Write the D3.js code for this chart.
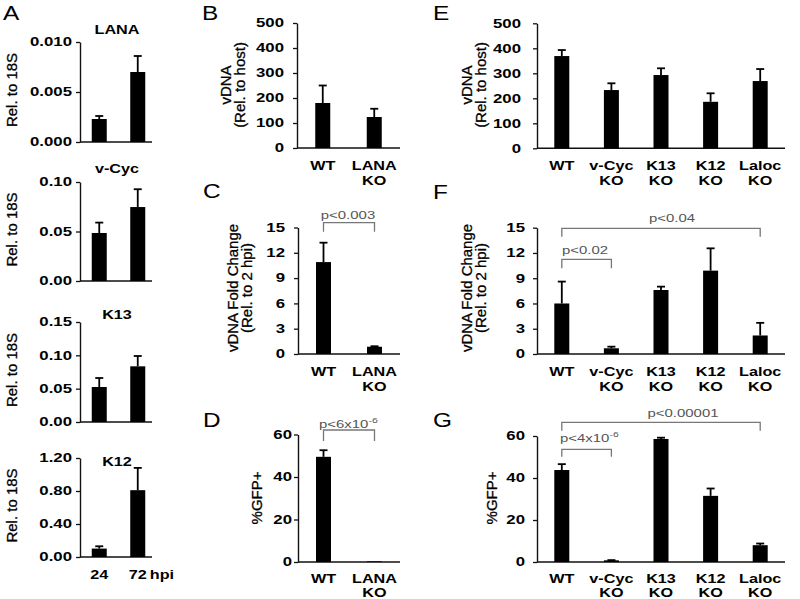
<!DOCTYPE html>
<html><head><meta charset="utf-8">
<script src="https://cdn.jsdelivr.net/npm/d3@7"></script>
<style>body{margin:0;background:#fff}svg{display:block}text{font-family:"Liberation Sans",Arial,sans-serif}</style>
</head><body>
<svg id="c" width="800" height="599"></svg>
<script>
// ---------- data ----------
const aTargets = ["LANA", "v-Cyc", "K13", "K12"];
const aTimes = ["24", "72"];
const aMeans = [[0.0023, 0.0070], [0.0485, 0.0747], [0.0525, 0.0835], [0.102, 0.81]];
const aErrors = [[0.0003, 0.0016], [0.0105, 0.018], [0.0135, 0.0155], [0.028, 0.27]];
const aMax = [0.010, 0.10, 0.15, 1.2];
const aTicks = [[0, 0.005, 0.010], [0, 0.05, 0.10], [0, 0.05, 0.10, 0.15], [0, 0.4, 0.8, 1.2]];
const aTickFormats = [".3f", ".2f", ".2f", ".2f"];

const lanaGroups = ["WT", "LANA KO"];
const bMeans = [180, 124], bErrors = [70, 33];
const cMeans = [10.9, 0.86], cErrors = [2.3, 0.06];
const dMeans = [49.5, 0.3], dErrors = [3.1, 0];

const koGroups = ["WT", "v-Cyc KO", "K13 KO", "K12 KO", "Laloc KO"];
const eMeans = [369, 233, 293, 186, 269], eErrors = [24, 27, 27, 34, 48];
const fMeans = [6.0, 0.68, 7.6, 9.9, 2.2], fErrors = [2.6, 0.19, 0.4, 2.65, 1.5];
const gMeans = [43.8, 0.8, 58.6, 31.5, 8.0], gErrors = [2.8, 0.1, 0.6, 3.5, 0.8];

const vdnaTicks = [0, 100, 200, 300, 400, 500];
const foldTicks = [0, 3, 6, 9, 12, 15];
const gfpTicks = [0, 20, 40, 60];

// ---------- drawing ----------
const svg = d3.select("#c");
const SX = 1.35;       // horizontal stretch of labels
const TSX = 1.4;       // horizontal stretch of tick labels

function txt(parent, x, y, str, o = {}) {
  const size = o.size || 12, weight = o.weight || "bold", anchor = o.anchor || "middle";
  const sx = o.sx || SX;
  return parent.append("text")
    .attr("transform", `translate(${x},${y}) scale(${sx},1)`)
    .attr("text-anchor", anchor).attr("font-size", size)
    .attr("font-weight", weight).attr("fill", o.fill || "#000").text(str);
}
function vtxt(parent, x, y, str, o = {}) {
  const size = o.size || 15, sx = o.sx || 0.95;
  return parent.append("text")
    .attr("transform", `translate(${x},${y}) scale(${sx},1) rotate(-90)`)
    .attr("text-anchor", "middle").attr("font-size", size)
    .attr("font-weight", o.weight || "normal").attr("fill", "#000")
    .attr("stroke", "#000").attr("stroke-width", 0.3).text(str);
}

function panel(o) {
  const g = svg.append("g");
  const x = d3.scalePoint().domain(o.cats).range([o.x0, o.x1]).padding(0.5);
  const y = d3.scaleLinear().domain([0, o.max]).range([o.yBot, o.yTop]);
  const ax = d3.axisLeft(y).tickValues(o.ticks).tickFormat(d3.format(o.fmt)).tickSize(4).tickSizeOuter(0);
  const ag = g.append("g").attr("transform", `translate(${o.x0},0)`).call(ax)
    .attr("font-family", null).attr("font-size", null);
  ag.select(".domain").attr("stroke", "#111").attr("stroke-width", 1.4);
  ag.selectAll(".tick line").attr("stroke", "#111").attr("stroke-width", 1.3);
  ag.selectAll(".tick text")
    .attr("x", -o.gap / TSX).attr("transform", `scale(${TSX},1)`)
    .attr("font-size", 12).attr("font-weight", "bold").attr("fill", "#000");
  g.append("line").attr("x1", o.x0).attr("x2", o.xEnd).attr("y1", o.yBot).attr("y2", o.yBot)
    .attr("stroke", "#111").attr("stroke-width", 1.4);
  const bw = 15;
  const data = o.cats.map((c, i) => ({ c, m: o.means[i], e: o.errs[i] }));
  g.selectAll("rect.bar").data(data).join("rect").attr("class", "bar")
    .attr("x", d => x(d.c) - bw / 2).attr("y", d => y(d.m))
    .attr("width", bw).attr("height", d => o.yBot - y(d.m)).attr("fill", "#000");
  const eb = data.filter(d => d.e > 0);
  g.selectAll("line.err").data(eb).join("line").attr("class", "err")
    .attr("x1", d => x(d.c)).attr("x2", d => x(d.c))
    .attr("y1", d => y(d.m)).attr("y2", d => y(d.m + d.e))
    .attr("stroke", "#000").attr("stroke-width", 1.8);
  g.selectAll("line.cap").data(eb).join("line").attr("class", "cap")
    .attr("x1", d => x(d.c) - 4).attr("x2", d => x(d.c) + 4)
    .attr("y1", d => y(d.m + d.e)).attr("y2", d => y(d.m + d.e))
    .attr("stroke", "#000").attr("stroke-width", 1.8);
  if (o.catLabels !== false) {
    const l1 = o.l1 || 21.5, ls = o.ls || 15.3;
    o.cats.forEach(c => {
      c.split(" ").forEach((line, k) => txt(g, x(c), o.yBot + l1 + k * ls, line));
    });
  }
  return { g, x, y };
}

function bracket(p, a, b, yLine, drop, label, tx, ty, sup) {
  const x1 = p.x(a), x2 = p.x(b);
  p.g.append("path")
    .attr("d", `M${x1},${yLine + drop}V${yLine}H${x2}V${yLine + drop}`)
    .attr("fill", "none").attr("stroke", "#777").attr("stroke-width", 1.3);
  const t = txt(p.g, tx, ty, label, { size: 11.5, weight: "normal", fill: "#555", anchor: sup ? "start" : "middle", sx: 1.3 });
  if (sup) t.append("tspan").attr("font-size", 8).attr("dy", -5).text(sup);
}

// Panel A (four small charts)
const aLayout = [
  { yTop: 42, yBot: 142, title: 34 },
  { yTop: 182, yBot: 281, title: 173 },
  { yTop: 322, yBot: 422, title: 319 },
  { yTop: 458, yBot: 557, title: 466 }
];
aTargets.forEach((t, i) => {
  const L = aLayout[i];
  const p = panel({
    cats: aTimes, means: aMeans[i], errs: aErrors[i], max: aMax[i], ticks: aTicks[i], fmt: aTickFormats[i],
    x0: 80, x1: 157, xEnd: 152, yTop: L.yTop, yBot: L.yBot, gap: 8, catLabels: false
  });
  txt(p.g, 117, L.title, t);
  vtxt(p.g, 17, (L.yTop + L.yBot) / 2 - 2, "Rel. to 18S");
  if (i === 3) {
    txt(p.g, p.x("24"), L.yBot + 22, "24");
    txt(p.g, p.x("72"), L.yBot + 22, "72");
    txt(p.g, p.x("72") + 12, L.yBot + 22, "hpi", { anchor: "start" });
  }
});

// Panel B
const pB = panel({ cats: lanaGroups, means: bMeans, errs: bErrors, max: 500, ticks: vdnaTicks, fmt: "d",
  x0: 297, x1: 400, xEnd: 400, yTop: 23, yBot: 148, gap: 13 });
vtxt(pB.g, 231, 85, "vDNA");
vtxt(pB.g, 245, 85, "(Rel. to host)");

// Panel C
const pC = panel({ cats: lanaGroups, means: cMeans, errs: cErrors, max: 15, ticks: foldTicks, fmt: "d",
  x0: 298, x1: 400, xEnd: 400, yTop: 227.5, yBot: 354, gap: 13 });
vtxt(pC.g, 238, 288, "vDNA Fold Change");
vtxt(pC.g, 252, 288, "(Rel. to 2 hpi)");
bracket(pC, "WT", "LANA KO", 222.7, 9, "p<0.003", 348, 219);

// Panel D
const pD = panel({ cats: lanaGroups, means: dMeans, errs: dErrors, max: 60, ticks: gfpTicks, fmt: "d",
  x0: 298, x1: 400, xEnd: 400, yTop: 434.5, yBot: 562, gap: 6, l1: 20.5, ls: 14 });
vtxt(pD.g, 262, 498, "%GFP+");
bracket(pD, "WT", "LANA KO", 430, 11, "p<6x10", 319, 428, "-6");

// Panel E
const pE = panel({ cats: koGroups, means: eMeans, errs: eErrors, max: 500, ticks: vdnaTicks, fmt: "d",
  x0: 537, x1: 785, xEnd: 785, yTop: 23.3, yBot: 148.3, gap: 16 });
vtxt(pE.g, 472, 85, "vDNA");
vtxt(pE.g, 486, 85, "(Rel. to host)");

// Panel F
const pF = panel({ cats: koGroups, means: fMeans, errs: fErrors, max: 15, ticks: foldTicks, fmt: "d",
  x0: 537, x1: 785, xEnd: 785, yTop: 227.7, yBot: 354, gap: 12 });
vtxt(pF.g, 472, 288, "vDNA Fold Change");
vtxt(pF.g, 486, 288, "(Rel. to 2 hpi)");
bracket(pF, "WT", "Laloc KO", 228.3, 8.5, "p<0.04", 672, 222);
bracket(pF, "WT", "v-Cyc KO", 259.3, 9, "p<0.02", 585, 254);

// Panel G
const pG = panel({ cats: koGroups, means: gMeans, errs: gErrors, max: 60, ticks: gfpTicks, fmt: "d",
  x0: 537, x1: 785, xEnd: 785, yTop: 436, yBot: 562, gap: 12, l1: 20.5, ls: 14 });
vtxt(pG.g, 497, 498, "%GFP+");
bracket(pG, "WT", "Laloc KO", 422.3, 8.5, "p<0.00001", 683, 416.5);
bracket(pG, "WT", "v-Cyc KO", 449.3, 7.5, "p<4x10", 560, 441.5, "-6");

// Panel letters
const letters = [["A", 3, 20], ["B", 202, 20], ["C", 203, 198], ["D", 203, 427],
                 ["E", 433, 20], ["F", 433, 199], ["G", 433, 427]];
letters.forEach(([l, lx, ly]) => txt(svg, lx, ly, l, { size: 19.5, weight: "normal", anchor: "start", sx: 1.25 }));
</script>
</body></html>
